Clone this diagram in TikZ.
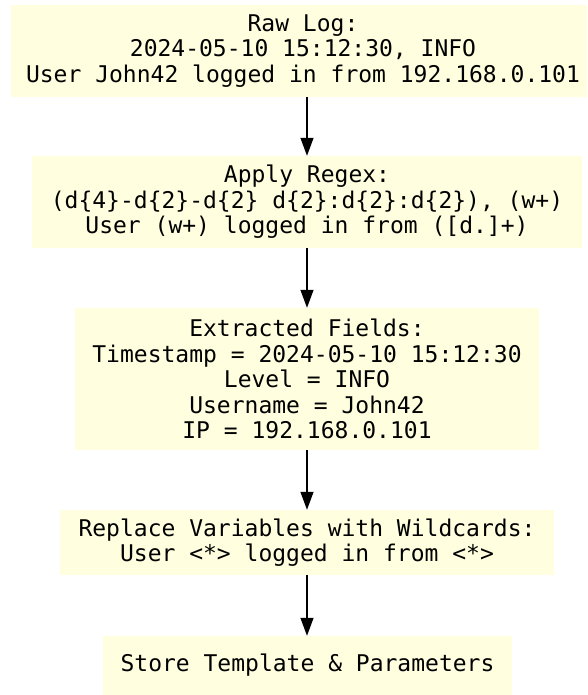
\documentclass[tikz,border=0pt]{standalone}
\usepackage{fontspec}
\setmonofont{DejaVu Sans Mono}
\usetikzlibrary{arrows.meta}
\definecolor{boxfill}{RGB}{255,255,224}
\begin{document}
\begin{tikzpicture}[x=1pt,y=1pt,
  stage/.style={rectangle, fill=boxfill, inner sep=0pt, align=center,
    font=\ttfamily\fontsize{23}{25.5}\selectfont},
  flow/.style={-{Triangle[length=18pt,width=13pt]}, line width=1.3pt, black}]
\useasboundingbox (0,0) rectangle (587,695);
\clip (0,0) rectangle (587,695);
\node[stage, minimum width=584, minimum height=92] (raw) at (303,644)
  {Raw Log:\\2024-05-10 15:12:30, INFO\\User John42 logged in from 192.168.0.101};
\node[stage, minimum width=550, minimum height=92] (regex) at (307,493)
  {Apply Regex:\\(d\{4\}-d\{2\}-d\{2\} d\{2\}:d\{2\}:d\{2\}), (w+)\\User (w+) logged in from ([d.]+)};
\node[stage, minimum width=464, minimum height=142] (fields) at (307,316)
  {Extracted Fields:\\Timestamp = 2024-05-10 15:12:30\\Level = INFO\\Username = John42\\IP = 192.168.0.101};
\node[stage, minimum width=494, minimum height=65] (wild) at (307,152.5)
  {Replace Variables with Wildcards:\\User <*> logged in from <*>};
\node[stage, minimum width=409, minimum height=59] (store) at (307.5,29.5)
  {Store Template \& Parameters};
\draw[flow] (raw.south -| regex.north) -- (regex.north);
\draw[flow] (regex.south) -- (fields.north);
\draw[flow] (fields.south) -- (wild.north);
\draw[flow] (wild.south) -- (store.north -| wild.south);
\end{tikzpicture}
\end{document}
